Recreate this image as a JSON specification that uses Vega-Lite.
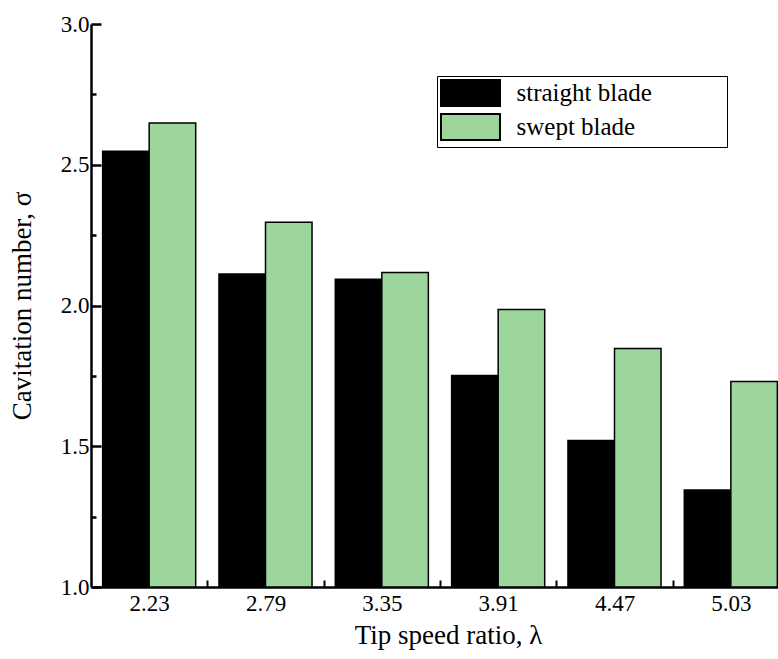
{
  "$schema": "https://vega.github.io/schema/vega-lite/v6.json",
  "width": 687,
  "height": 563,
  "autosize": {"type": "none"},
  "padding": {"left": 91, "top": 24, "right": 0, "bottom": 72},
  "background": "white",
  "config": {
    "view": {"stroke": null},
    "font": "Liberation Serif",
    "axis": {"labelFont": "Liberation Serif", "titleFont": "Liberation Serif", "labelColor": "#000", "titleColor": "#000", "domainColor": "#000", "tickColor": "#000", "titleFontWeight": "normal", "grid": false},
    "legend": {"labelFont": "Liberation Serif", "titleFont": "Liberation Serif"}
  },
  "data": {
    "values": [
      {"tsr": "2.23", "blade": "straight blade", "sigma": 2.548},
      {"tsr": "2.23", "blade": "swept blade", "sigma": 2.648},
      {"tsr": "2.79", "blade": "straight blade", "sigma": 2.112},
      {"tsr": "2.79", "blade": "swept blade", "sigma": 2.296},
      {"tsr": "3.35", "blade": "straight blade", "sigma": 2.093},
      {"tsr": "3.35", "blade": "swept blade", "sigma": 2.117},
      {"tsr": "3.91", "blade": "straight blade", "sigma": 1.751},
      {"tsr": "3.91", "blade": "swept blade", "sigma": 1.986},
      {"tsr": "4.47", "blade": "straight blade", "sigma": 1.52},
      {"tsr": "4.47", "blade": "swept blade", "sigma": 1.847},
      {"tsr": "5.03", "blade": "straight blade", "sigma": 1.345},
      {"tsr": "5.03", "blade": "swept blade", "sigma": 1.73}
    ]
  },
  "layer": [
    {
      "mark": {"type": "bar", "stroke": "#000", "strokeWidth": 1.5},
      "encoding": {
        "x": {
          "field": "tsr", "type": "nominal", "sort": null,
          "scale": {"range": [0, 698], "paddingInner": 0.2, "paddingOuter": 0.1},
          "axis": {
            "title": "Tip speed ratio, λ", "titleFontSize": 27, "titleX": 357, "titlePadding": 7,
            "labelFontSize": 23, "labelAngle": 0, "labelPadding": 12, "labelOffset": -58.2,
            "tickSize": -7, "tickWidth": 2, "tickOffset": 58.2, "domainWidth": 2.5
          }
        },
        "xOffset": {"field": "blade", "type": "nominal", "scale": {"paddingInner": 0, "paddingOuter": 0}},
        "y": {
          "field": "sigma", "type": "quantitative",
          "scale": {"domain": [1, 3], "nice": false, "zero": false},
          "axis": {
            "title": "Cavitation number, σ", "titleFontSize": 27, "titlePadding": 24,
            "values": [1, 1.5, 2, 2.5, 3], "format": ".1f",
            "labelFontSize": 23, "labelPadding": 12,
            "tickSize": -10, "tickWidth": 2.5, "domainWidth": 2.5
          }
        },
        "y2": {"datum": 1},
        "color": {
          "field": "blade", "type": "nominal",
          "scale": {"domain": ["straight blade", "swept blade"], "range": ["#000000", "#9dd69d"]},
          "legend": {
            "title": null, "orient": "none", "legendX": 346, "legendY": 52,
            "symbolType": "M-2.27,-1H2.27V1H-2.27Z", "symbolSize": 676,
            "symbolStrokeColor": "#000", "symbolStrokeWidth": 2,
            "symbolOffset": 16.5, "labelOffset": 32,
            "labelFont": "Liberation Serif", "labelFontSize": 25, "labelColor": "#000",
            "labelExpr": "datum.label + '\u2800\u2800\u2800\u2800'",
            "labelLimit": 400,
            "rowPadding": 0, "padding": 3,
            "strokeColor": "#000",
            "fillColor": "white"
          }
        }
      }
    },
    {
      "mark": {"type": "rule", "opacity": 0},
      "encoding": {
        "y": {
          "field": "sigma", "type": "quantitative",
          "scale": {"domain": [1, 3], "nice": false, "zero": false},
          "axis": {
            "orient": "left", "title": null, "labels": false, "domain": false,
            "values": [1.25, 1.75, 2.25, 2.75],
            "tickSize": -5, "tickWidth": 2.5
          }
        }
      }
    }
  ],
  "resolve": {"axis": {"y": "independent"}}
}
